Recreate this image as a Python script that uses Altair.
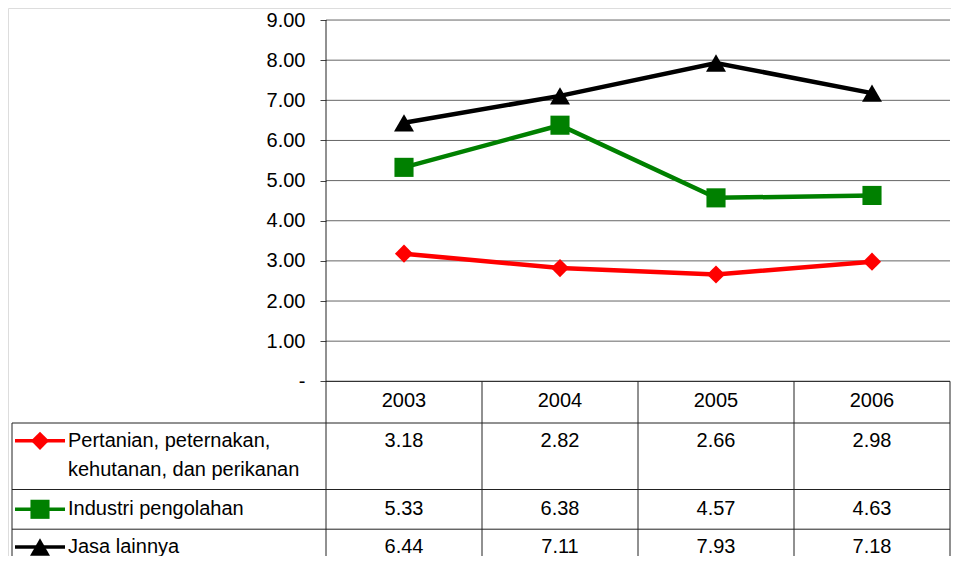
import altair as alt
import pandas as pd

# ---------------- data ----------------
years = ["2003", "2004", "2005", "2006"]
series_names = ["Pertanian, peternakan, kehutanan, dan perikanan",
                "Industri pengolahan", "Jasa lainnya"]
label_lines = [["Pertanian, peternakan,", "kehutanan, dan perikanan"],
               ["Industri pengolahan"],
               ["Jasa lainnya"]]
pertanian = [3.18, 2.82, 2.66, 2.98]
industri = [5.33, 6.38, 4.57, 4.63]
jasa = [6.44, 7.11, 7.93, 7.18]
y_ticks = [0, 1, 2, 3, 4, 5, 6, 7, 8, 9]
colors = ["#FF0000", "#008000", "#000000"]
shapes = ["diamond", "square", "triangle-up"]
marker_sizes = [330, 400, 470]
legend_marker_sizes = [120, 130, 190]

# ---------------- layout (pixels) ----------------
W, H = 943, 548
X0PX, COL = 318, 156          # x=0 (value axis) position, width of one year column
Y0PX, U = 373.3, 40.14        # y=0 position, pixels per unit
FONT = "Liberation Sans"
FS = 20

x_dom = [-X0PX / COL, (W - X0PX) / COL]
y_dom = [-(H - Y0PX) / U, Y0PX / U]
y_bot = y_dom[0]

def px_x(p):
    return (p - X0PX) / COL

def dy_units(p):
    return p / U

# table row edges (units below y=0)
row_top = [-dy_units(41.7), -dy_units(108.2), -dy_units(147.9)]
row_text = [row_top[0] - dy_units(17.8), row_top[1] - dy_units(19.8), row_top[2] - dy_units(17.8)]
table_left = px_x(4)
sym_x1, sym_x2, sym_xm = px_x(7), px_x(57), px_x(32)
label_x = px_x(60)

xs = alt.Scale(domain=x_dom, nice=False, zero=False)
ys = alt.Scale(domain=y_dom, nice=False, zero=False)
yaxis = alt.Axis(values=y_ticks,
                 labelExpr="datum.value == 0 ? '-\u00a0\u00a0\u00a0\u00a0' : format(datum.value, '.2f')",
                 offset=-X0PX, domain=False, grid=False, ticks=True, tickSize=6,
                 tickColor="#444", labelFontSize=FS, labelFont=FONT, labelColor="#000",
                 labelPadding=15, title=None)

def X(f, **kw):
    return alt.X(f, type="quantitative", scale=xs, axis=None, title=None, **kw)

def Y(f, **kw):
    return alt.Y(f, type="quantitative", scale=ys, axis=yaxis, title=None, **kw)

color_scale = alt.Scale(domain=series_names, range=colors)
shape_scale = alt.Scale(domain=series_names, range=shapes)

# ---------------- tables ----------------
vals = [pertanian, industri, jasa]
df = pd.DataFrame([
    {"series": s, "year": y, "xpos": i + 0.5, "value": v[i],
     "ytext": row_text[k], "label": f"{v[i]:.2f}"}
    for k, (s, v) in enumerate(zip(series_names, vals))
    for i, y in enumerate(years)
])

grid = pd.DataFrame({"y": [t for t in y_ticks if t > 0], "x": 0, "x2": 4})
zero = pd.DataFrame({"y": [0], "x": [0], "x2": [4]})
hlines = pd.DataFrame({"y": row_top, "x": table_left, "x2": 4})
vlines = pd.DataFrame({"x": [0, 1, 2, 3, 4, table_left],
                       "y": [9, 0, 0, 0, 0, row_top[0]],
                       "y2": [y_bot] * 6})
heads = pd.DataFrame({"x": [i + 0.5 for i in range(len(years))], "y": -dy_units(19.5), "t": years})

lab_rows = []
for k, lines in enumerate(label_lines):
    for j, line in enumerate(lines):
        lab_rows.append({"x": label_x, "y": row_text[k] - dy_units(29.5) * j, "t": line})
labs = pd.DataFrame(lab_rows)

sym = pd.DataFrame({"series": series_names, "x": sym_x1, "x2": sym_x2, "xm": sym_xm, "y": row_text})

# ---------------- layers ----------------
l_grid = alt.Chart(grid).mark_rule(color="#666", strokeWidth=1).encode(x=X("x"), x2="x2", y=Y("y"))
l_zero = alt.Chart(zero).mark_rule(color="#000", strokeWidth=1).encode(x=X("x"), x2="x2", y=Y("y"))
l_h = alt.Chart(hlines).mark_rule(color="#222", strokeWidth=1).encode(x=X("x"), x2="x2", y=Y("y"))
l_v = alt.Chart(vlines).mark_rule(color="#222", strokeWidth=1, clip=True).encode(x=X("x"), y=Y("y"), y2="y2")

l_line = alt.Chart(df).mark_line(strokeWidth=4.5).encode(
    x=X("xpos"), y=Y("value"),
    color=alt.Color("series:N", scale=color_scale, legend=None),
    detail="series:N")
l_pt = alt.Chart(df).mark_point(filled=True, opacity=1).encode(
    x=X("xpos"), y=Y("value"),
    color=alt.Color("series:N", scale=color_scale, legend=None),
    shape=alt.Shape("series:N", scale=shape_scale, legend=None),
    size=alt.Size("series:N", scale=alt.Scale(domain=series_names, range=marker_sizes), legend=None))

l_head = alt.Chart(heads).mark_text(font=FONT, fontSize=FS, color="#000", baseline="middle").encode(
    x=X("x"), y=Y("y"), text="t:N")
l_val = alt.Chart(df).mark_text(font=FONT, fontSize=FS, color="#000", baseline="middle", clip=True).encode(
    x=X("xpos"), y=Y("ytext"), text="label:N")
l_lab = alt.Chart(labs).mark_text(font=FONT, fontSize=FS, color="#000", baseline="middle",
                                  align="left", clip=True).encode(
    x=X("x"), y=Y("y"), text="t:N")

l_sym_line = alt.Chart(sym).mark_rule(strokeWidth=3.5).encode(
    x=X("x"), x2="x2", y=Y("y"),
    color=alt.Color("series:N", scale=color_scale, legend=None))
l_sym_pt = alt.Chart(sym).mark_point(filled=True, opacity=1, clip=True).encode(
    x=X("xm"), y=Y("y"),
    color=alt.Color("series:N", scale=color_scale, legend=None),
    shape=alt.Shape("series:N", scale=shape_scale, legend=None),
    size=alt.Size("series:N", scale=alt.Scale(domain=series_names, range=legend_marker_sizes), legend=None))

chart = alt.layer(
    l_grid, l_zero, l_h, l_v, l_line, l_pt, l_head, l_val, l_lab, l_sym_line, l_sym_pt
).properties(
    width=W, height=H, padding=0,
    autosize=alt.AutoSizeParams(type="none")
).configure_view(stroke=None).configure(background="white")

chart.save("out.html", embed_options={"renderer": "svg", "actions": False})
